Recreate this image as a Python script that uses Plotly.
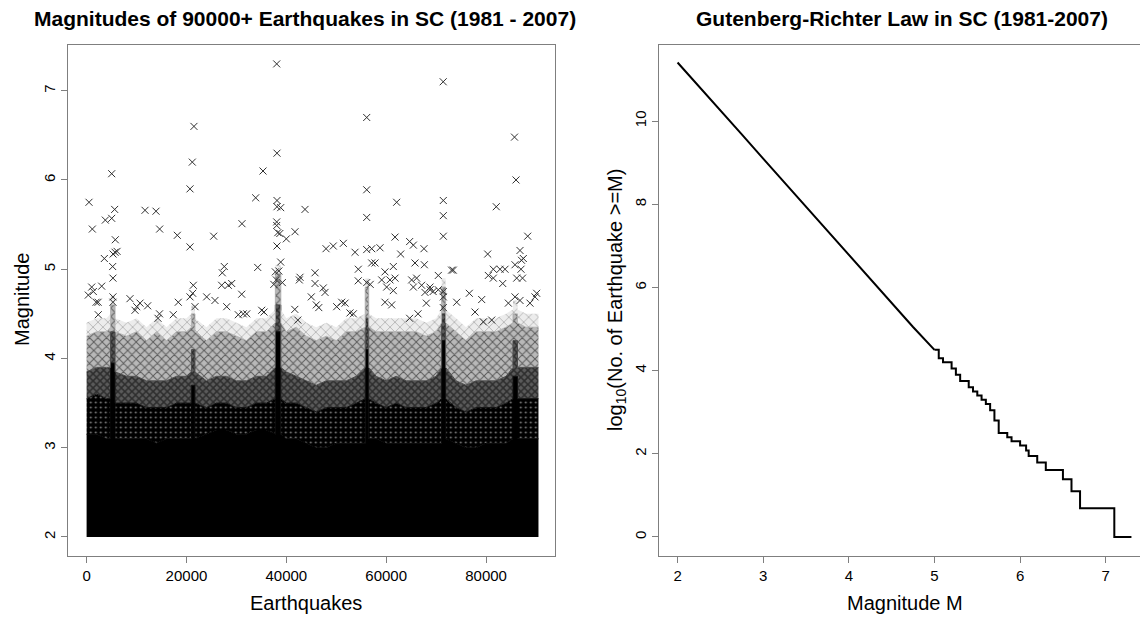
import plotly.graph_objects as go

W, H = 1140, 621

# ---------------- Left panel data ----------------
# bin positions along the catalogue index and envelopes (magnitude) of the
# dense marker mass: solid black, very dense crosses, dense crosses, sparse crosses, fringe
band_x = [0, 2000, 4000, 4800, 4801, 5700, 5701, 8000, 10000, 12000, 14000, 16000,
          18000, 20000, 21000, 21001, 21700, 21701, 24000, 26000, 28000, 30000, 32000,
          34000, 36000, 37800, 37801, 38900, 38901, 40000, 42000, 44000, 46000, 48000,
          50000, 52000, 54000, 55800, 55801, 56500, 56501, 58000, 60000, 62000, 64000,
          66000, 68000, 70000, 71100, 71101, 71900, 71901, 74000, 76000, 78000, 80000,
          82000, 84000, 85400, 85401, 86300, 86301, 88000, 90500]
solid_top = [3.15, 3.15, 3.1, 3.1, 3.95, 3.95, 3.1, 3.1, 3.1, 3.1, 3.05, 3.1,
             3.1, 3.1, 3.1, 3.7, 3.7, 3.1, 3.15, 3.2, 3.2, 3.15, 3.15,
             3.2, 3.2, 3.15, 4.3, 4.3, 3.15, 3.1, 3.1, 3.05, 3.0, 3.0,
             3.05, 3.05, 3.05, 3.05, 4.1, 4.1, 3.1, 3.1, 3.05, 3.05, 3.05,
             3.05, 3.05, 3.05, 3.05, 4.2, 4.2, 3.1, 3.05, 3.0, 3.0, 3.05,
             3.05, 3.05, 3.1, 3.8, 3.8, 3.1, 3.1, 3.1]
mid_top = [3.55, 3.6, 3.55, 3.55, 3.95, 3.95, 3.5, 3.5, 3.5, 3.45, 3.45, 3.45,
           3.5, 3.5, 3.5, 3.7, 3.7, 3.5, 3.45, 3.5, 3.5, 3.45, 3.45,
           3.5, 3.5, 3.55, 4.3, 4.3, 3.55, 3.5, 3.5, 3.45, 3.4, 3.45,
           3.45, 3.45, 3.5, 3.55, 4.1, 4.1, 3.55, 3.5, 3.45, 3.5, 3.45,
           3.45, 3.45, 3.5, 3.55, 4.2, 4.2, 3.55, 3.45, 3.4, 3.45, 3.45,
           3.45, 3.5, 3.55, 3.8, 3.8, 3.55, 3.55, 3.55]
upper_top = [3.85, 3.9, 3.9, 3.9, 4.3, 4.3, 3.85, 3.8, 3.8, 3.75, 3.75, 3.75,
             3.8, 3.8, 3.85, 4.1, 4.1, 3.85, 3.75, 3.8, 3.8, 3.75, 3.75,
             3.8, 3.8, 3.9, 4.6, 4.6, 3.9, 3.85, 3.8, 3.75, 3.7, 3.75,
             3.75, 3.75, 3.8, 3.9, 4.45, 4.45, 3.9, 3.8, 3.75, 3.8, 3.75,
             3.75, 3.75, 3.8, 3.9, 4.5, 4.5, 3.9, 3.75, 3.7, 3.75, 3.75,
             3.75, 3.8, 3.9, 4.2, 4.2, 3.9, 3.9, 3.9]
sparse_top = [4.25, 4.3, 4.3, 4.35, 4.6, 4.6, 4.3, 4.25, 4.3, 4.2, 4.3, 4.2,
              4.3, 4.3, 4.35, 4.5, 4.5, 4.3, 4.2, 4.3, 4.3, 4.25, 4.2,
              4.3, 4.3, 4.4, 4.95, 4.95, 4.4, 4.3, 4.35, 4.25, 4.2, 4.25,
              4.2, 4.3, 4.3, 4.35, 4.8, 4.8, 4.35, 4.3, 4.3, 4.3, 4.3,
              4.3, 4.25, 4.3, 4.4, 4.8, 4.8, 4.4, 4.3, 4.2, 4.3, 4.3,
              4.3, 4.35, 4.4, 4.5, 4.5, 4.4, 4.35, 4.35]
fringe_top = [4.4, 4.45, 4.45, 4.5, 4.7, 4.7, 4.45, 4.4, 4.45, 4.35, 4.45, 4.35,
              4.45, 4.45, 4.5, 4.6, 4.6, 4.45, 4.35, 4.45, 4.45, 4.4, 4.35,
              4.45, 4.45, 4.55, 5.05, 5.05, 4.55, 4.45, 4.5, 4.4, 4.35, 4.4,
              4.35, 4.45, 4.45, 4.5, 4.9, 4.9, 4.5, 4.45, 4.45, 4.45, 4.45,
              4.45, 4.4, 4.45, 4.55, 4.9, 4.9, 4.55, 4.45, 4.35, 4.45, 4.45,
              4.45, 4.5, 4.55, 4.65, 4.65, 4.55, 4.5, 4.5]
band_base = [2.0] * len(band_x)

# individual large events above the dense band (catalogue index, magnitude)
eq_index = [38070, 71420, 56100, 21500, 85700, 38130, 21170, 35330, 5025, 86000, 20710, 56100,
            480, 33860, 38130, 38130, 38870, 62100, 71440, 71440, 71440, 5620, 11700, 13900,
            43740, 82050, 3750, 5025, 1150, 14630, 31120, 38070, 38070, 38300, 38700, 41740,
            40000, 56100, 5750, 18170, 25450, 20710, 38130, 61770, 88340, 64700, 65440, 67570,
            51420, 49400, 47950, 53760, 56100, 57100, 58760, 62900, 80330, 86800, 87470, 5300,
            5700, 6100, 3550, 5220, 5280, 5280, 5280, 38870, 38500, 37800, 57100, 57760,
            54420, 27580, 27180, 34270, 61430, 65770, 67640, 73100, 73440, 70440, 80460, 81460,
            81460, 82800, 83800, 85800, 86140, 87100, 87000, 87300, 83340, 76650, 79130, 77790,
            45750, 42740, 42600, 45750, 47400, 47750, 45000, 46000, 46500, 71440, 71440, 71440,
            70440, 69400, 68800, 27050, 28380, 29060, 21370, 21250, 20710, 21710, 24050, 25710,
            31060, 37500, 38000, 39200, 54400, 56100, 56800, 59760, 60760, 61770, 59100, 60100,
            61430, 65100, 66100, 65440, 67100, 67770, 68770, 74120, 90140, 89800, 88800, 1020,
            1350, 340, 3020, 1900, 2300, 2340, 8690, 9700, 10040, 10700, 12230, 14300,
            14600, 18360, 17360, 28060, 30380, 31380, 32070, 35070, 35530, 41700, 42300, 51090,
            51760, 50090, 53420, 52750, 59760, 61100, 64700, 66370, 68040, 79450, 81130, 84470,
            85800, 86800]
eq_mag = [7.30, 7.10, 6.70, 6.60, 6.48, 6.30, 6.20, 6.10, 6.07, 6.00, 5.90, 5.89,
          5.75, 5.80, 5.77, 5.70, 5.69, 5.75, 5.77, 5.60, 5.37, 5.67, 5.66, 5.65,
          5.67, 5.70, 5.55, 5.57, 5.45, 5.45, 5.51, 5.53, 5.49, 5.41, 5.40, 5.42,
          5.34, 5.58, 5.33, 5.38, 5.37, 5.25, 5.26, 5.36, 5.37, 5.31, 5.27, 5.23,
          5.29, 5.26, 5.23, 5.19, 5.22, 5.23, 5.24, 5.17, 5.17, 5.21, 5.12, 5.17,
          5.19, 5.20, 5.12, 5.03, 4.90, 4.69, 4.63, 5.08, 4.98, 4.97, 5.07, 5.07,
          5.00, 5.03, 4.96, 5.02, 5.03, 5.07, 5.05, 4.99, 4.99, 4.93, 4.93, 4.90,
          5.00, 5.00, 5.00, 5.05, 4.90, 5.10, 5.00, 4.90, 4.84, 4.73, 4.66, 4.52,
          4.96, 4.91, 4.88, 4.84, 4.79, 4.74, 4.69, 4.60, 4.57, 4.75, 4.69, 4.57,
          4.77, 4.75, 4.77, 4.82, 4.82, 4.84, 4.82, 4.73, 4.69, 4.58, 4.69, 4.65,
          4.72, 4.83, 4.88, 4.85, 4.87, 4.85, 4.83, 4.97, 4.88, 4.90, 4.88, 4.80,
          4.76, 4.88, 4.90, 4.80, 4.82, 4.74, 4.80, 4.63, 4.73, 4.69, 4.62, 4.80,
          4.75, 4.71, 4.81, 4.63, 4.63, 4.49, 4.67, 4.54, 4.58, 4.62, 4.59, 4.45,
          4.50, 4.63, 4.49, 4.58, 4.49, 4.50, 4.50, 4.54, 4.52, 4.55, 4.43, 4.63,
          4.62, 4.58, 4.50, 4.51, 4.63, 4.60, 4.45, 4.50, 4.62, 4.41, 4.43, 4.62,
          4.69, 4.65]

# ---------------- Right panel data ----------------
gr_smooth_m = [2.00, 2.25, 2.50, 2.75, 3.00, 3.25, 3.50, 3.75, 4.00, 4.25, 4.50, 4.75, 5.00]
gr_smooth_y = [11.41, 10.84, 10.27, 9.68, 9.10, 8.52, 7.95, 7.36, 6.78, 6.20, 5.62, 5.05, 4.50]
gr_step_m = [5.00, 5.05, 5.10, 5.20, 5.25, 5.30, 5.40, 5.45, 5.50, 5.55, 5.60, 5.65,
             5.70, 5.75, 5.85, 5.90, 6.00, 6.07, 6.10, 6.20, 6.30, 6.50, 6.60, 6.70,
             7.10, 7.30]
gr_step_y = [4.50, 4.30, 4.20, 4.05, 3.90, 3.75, 3.60, 3.50, 3.40, 3.30, 3.20, 3.05,
             2.80, 2.50, 2.40, 2.30, 2.20, 2.08, 1.95, 1.79, 1.61, 1.39, 1.10, 0.69,
             0.00, 0.00]

left_xticks = [0, 20000, 40000, 60000, 80000]
left_yticks = [2, 3, 4, 5, 6, 7]
right_xticks = [2, 3, 4, 5, 6, 7]
right_yticks = [0, 2, 4, 6, 8, 10]

FONT = "Liberation Sans, Arial, sans-serif"
FRAME = "#7f7f7f"

fig = go.Figure()


def band(y, edge, width=1.0, **kw):
    fig.add_trace(go.Scatter(x=band_x, y=y, mode="lines", line=dict(width=width, color=edge),
                             showlegend=False, hoverinfo="skip", xaxis="x", yaxis="y", **kw))


band(band_base, "#000000", width=0)
band(solid_top, "#000000", fill="tonexty", fillcolor="#000000")
band(mid_top, "#111111", fill="tonexty", fillcolor="#000000",
     fillpattern=dict(shape=".", size=5, solidity=0.12, fgcolor="#ffffff",
                      bgcolor="#000000"))
band(upper_top, "#4a4a4a", fill="tonexty", fillcolor="#555555",
     fillpattern=dict(shape="x", size=5, solidity=0.5, fgcolor="#000000",
                      bgcolor="#5a5a5a"))
band(sparse_top, "#a8a8a8", width=0.8, fill="tonexty", fillcolor="#b0b0b0",
     fillpattern=dict(shape="x", size=6, solidity=0.3, fgcolor="#000000",
                      bgcolor="#b8b8b8"))
band(fringe_top, "rgba(0,0,0,0)", width=0, fill="tonexty", fillcolor="#e4e4e4",
     fillpattern=dict(shape="x", size=7, solidity=0.18, fgcolor="#555555",
                      bgcolor="#ececec"))

fig.add_trace(go.Scatter(x=eq_index, y=eq_mag, mode="markers",
                         marker=dict(symbol="x-thin", size=7, color="#303030",
                                     line=dict(width=1, color="#303030")),
                         showlegend=False, hoverinfo="skip", xaxis="x", yaxis="y"))

# right panel: Gutenberg-Richter curve
fig.add_trace(go.Scatter(x=gr_smooth_m, y=gr_smooth_y, mode="lines",
                         line=dict(color="black", width=2),
                         showlegend=False, xaxis="x2", yaxis="y2"))
fig.add_trace(go.Scatter(x=gr_step_m, y=gr_step_y, mode="lines",
                         line=dict(color="black", width=2, shape="hv"),
                         showlegend=False, xaxis="x2", yaxis="y2"))

ydom = [1 - 556 / H, 1 - 45 / H]
axis_common = dict(showline=True, linecolor=FRAME, linewidth=1, ticks="outside",
                   ticklen=6, tickcolor=FRAME, showgrid=False, zeroline=False,
                   tickfont=dict(family=FONT, size=15, color="black"))

fig.update_layout(
    width=W, height=H, margin=dict(l=0, r=0, t=0, b=0),
    paper_bgcolor="white", plot_bgcolor="white",
    xaxis=dict(domain=[68.3 / W, 555 / W], range=[-3665, 93810], tickvals=left_xticks,
               ticktext=[str(v) for v in left_xticks], mirror=True, anchor="y",
               **axis_common),
    yaxis=dict(domain=ydom, range=[1.787, 7.512], tickvals=left_yticks, tickangle=-90,
               mirror=True, anchor="x", ticklabelstandoff=0, **axis_common),
    xaxis2=dict(domain=[659.4 / W, 1.0], range=[1.788, 7.400], tickvals=right_xticks,
                mirror=True, anchor="y2", **axis_common),
    yaxis2=dict(domain=ydom, range=[-0.457, 11.83], tickvals=right_yticks, tickangle=-90,
                mirror=False, anchor="x2", ticklabelstandoff=0, **axis_common),
)


def ann(text, xpx, ypx, size, bold=False, angle=0):
    fig.add_annotation(text=("<b>%s</b>" % text) if bold else text,
                       x=xpx / W, y=1 - ypx / H, xref="paper", yref="paper",
                       xanchor="center", yanchor="middle", showarrow=False,
                       textangle=angle, font=dict(family=FONT, size=size, color="black"))


ann("Magnitudes of 90000+ Earthquakes in SC (1981 - 2007)", 305, 18, 21, bold=True)
ann("Gutenberg-Richter Law in SC (1981-2007)", 902, 18, 21, bold=True)
ann("Earthquakes", 306, 603, 20)
ann("Magnitude M", 905, 603, 20)
ann("Magnitude", 22, 300, 20, angle=-90)
ann("log<sub>10</sub>(No. of Earthquake &gt;=M)", 617, 300, 20, angle=-90)

fig.write_html("out.html")
